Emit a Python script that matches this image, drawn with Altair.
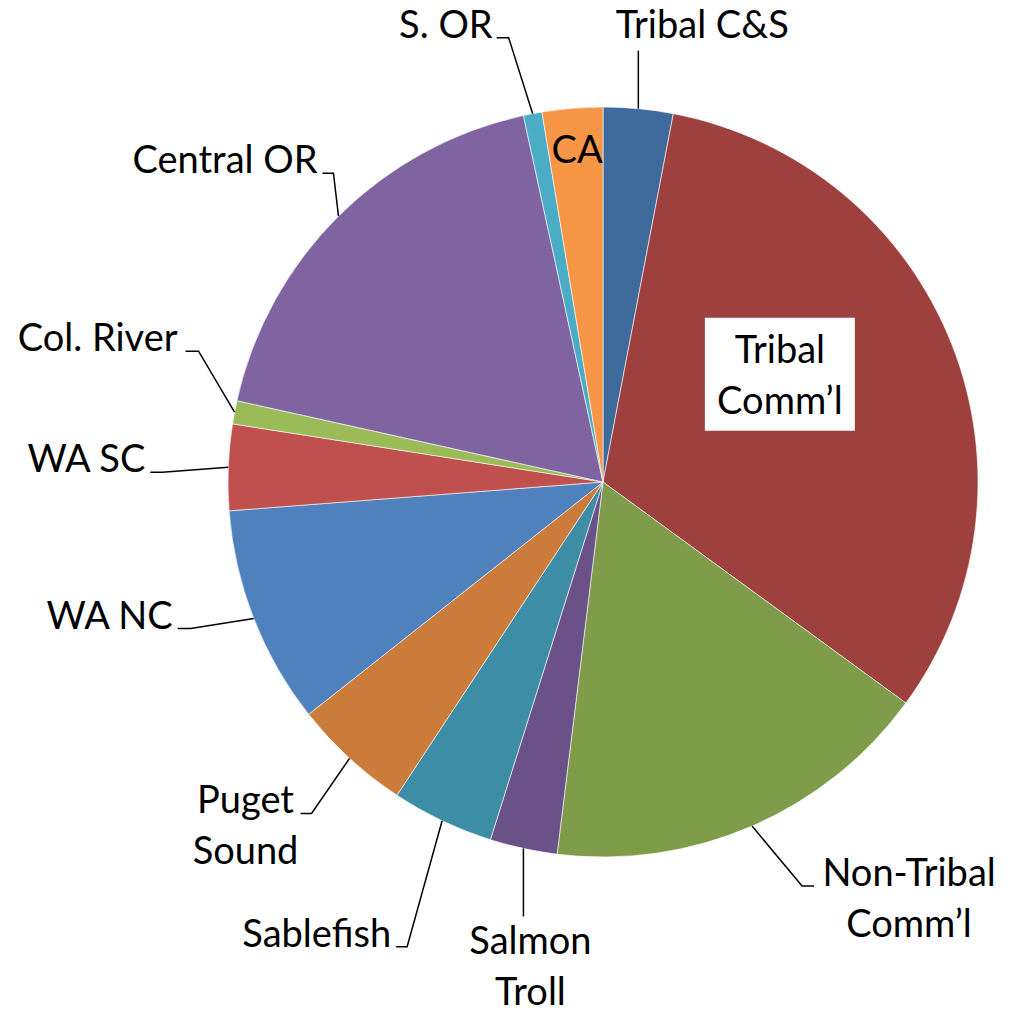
import numpy as np
import pandas as pd
import altair as alt

# ---------------- data ----------------
categories = ["Tribal C&S", "Tribal Comm'l", "Non-Tribal Comm'l", "Salmon Troll",
              "Sablefish", "Puget Sound", "WA NC", "WA SC", "Col. River",
              "Central OR", "S. OR", "CA"]
shares = [3.0, 32.0, 16.9, 2.9, 4.4, 5.1, 9.4, 3.7, 1.0, 18.1, 0.8, 2.6]
label_lines = [["Tribal C&S"], ["Tribal", "Comm\u2019l"], ["Non-Tribal", "Comm\u2019l"],
               ["Salmon", "Troll"], ["Sablefish"], ["Puget", "Sound"], ["WA NC"],
               ["WA SC"], ["Col. River"], ["Central OR"], ["S. OR"], ["CA"]]
colors = ["#3F6A9C", "#9D403E", "#7F9C4A", "#6A5188", "#3C8DA5", "#CC7C3A",
          "#4F81BD", "#C0504D", "#9BBB59", "#8064A2", "#4BACC6", "#F79646"]

# ---------------- layout ----------------
W, H = 1003, 999          # view size
CX, CY, R = 595, 474, 375  # pie centre / radius (view pixels)
FONT, FS, LH = "Lato", 38, 51

# outside labels: elbow offset from slice edge, horizontal tail, text offset, alignment
LEADER = {
    "Tribal C&S":        (0, -58, 0, 64, -13, "center"),
    "Non-Tribal Comm'l": (50, 60, 12, 95, 0, "center"),
    "Salmon Troll":      (0, 68, 0, 7, 38, "center"),
    "Sablefish":         (-35, 126, -11, -5, 0, "right"),
    "Puget Sound":       (-38, 55, -11, -55, 0, "center"),
    "WA NC":             (-63, 10, -13, -5, 0, "right"),
    "WA SC":             (-66, 5, -12, -5, 0, "right"),
    "Col. River":        (-36, -61, -13, -8, 0, "right"),
    "Central OR":        (-5, -43, -11, -5, 0, "right"),
    "S. OR":             (-24, -76, -12, -4, 0, "right"),
}
# inside labels: radius fraction at mid-angle, text offset, optional white box (half w, half h, centre dy)
INSIDE = {
    "Tribal Comm'l": (0.55, -15, -43.5, (75, 56.5, 11.5)),
    "CA":            (0.89, 1.4, 13.9, None),
}

vals = np.array(shares, dtype=float)
cum = np.cumsum(vals)
mid = (cum - vals / 2) / vals.sum() * 2 * np.pi

pie_df = pd.DataFrame({"category": categories, "share": shares, "idx": range(len(categories))})

line_rows, text_rows, box_rows = [], [], []
for i, name in enumerate(categories):
    a = mid[i]
    if name in LEADER:
        edx, edy, tdx, txdx, txdy, al = LEADER[name]
        ax_, ay_ = CX + R * np.sin(a), CY - R * np.cos(a)
        ex, ey = ax_ + edx, ay_ + edy
        hx, hy = ex + tdx, ey
        pts = [(ax_, ay_), (ex, ey)] + ([(hx, hy)] if tdx else [])
        for k, (px, py) in enumerate(pts):
            line_rows.append({"label": name, "step": k, "px": px, "py": py})
        text_rows.append({"label": name, "lines": label_lines[i], "px": hx + txdx,
                          "py": hy + txdy, "align": al})
    else:
        rf, dx, dy, box = INSIDE[name]
        mx, my = CX + rf * R * np.sin(a), CY - rf * R * np.cos(a)
        tx, ty = mx + dx, my + dy
        text_rows.append({"label": name, "lines": label_lines[i], "px": tx, "py": ty,
                          "align": "center"})
        if box:
            hw, hh, cdy = box
            box_rows.append({"x1": tx - hw, "x2": tx + hw, "y1": ty + cdy - hh, "y2": ty + cdy + hh})

line_df = pd.DataFrame(line_rows)
text_df = pd.DataFrame(text_rows)
box_df = pd.DataFrame(box_rows)

xs = alt.Scale(domain=[0, W], nice=False, zero=False)
ys = alt.Scale(domain=[0, H], nice=False, zero=False, reverse=True)

pie = alt.Chart(pie_df).mark_arc(outerRadius=R, stroke="#FFFFFF", strokeWidth=0.6).encode(
    theta=alt.Theta("share:Q", stack=True),
    color=alt.Color("category:N", scale=alt.Scale(domain=categories, range=colors), legend=None),
    order=alt.Order("idx:Q"),
    x=alt.value(CX),
    y=alt.value(CY),
)

leaders = alt.Chart(line_df).mark_line(color="#000000", strokeWidth=1.5).encode(
    x=alt.X("px:Q", scale=xs, axis=None),
    y=alt.Y("py:Q", scale=ys, axis=None),
    detail="label:N",
    order="step:Q",
)

box = alt.Chart(box_df).mark_rect(fill="#FFFFFF").encode(
    x=alt.X("x1:Q", scale=xs, axis=None), x2="x2:Q",
    y=alt.Y("y1:Q", scale=ys, axis=None), y2="y2:Q",
)

def text_layer(al):
    return alt.Chart(text_df).transform_filter(alt.datum.align == al).mark_text(
        font=FONT, fontSize=FS, lineHeight=LH, align=al, baseline="alphabetic", color="#000000"
    ).encode(
        x=alt.X("px:Q", scale=xs, axis=None),
        y=alt.Y("py:Q", scale=ys, axis=None),
        text="lines",
    )

chart = alt.layer(pie, leaders, box, text_layer("center"), text_layer("right")).properties(
    width=W, height=H, autosize=alt.AutoSizeParams(type="none"), padding=0,
    background="#FFFFFF",
).configure_view(strokeWidth=0)

chart.save("out.html", embed_options={"renderer": "svg", "actions": False})
